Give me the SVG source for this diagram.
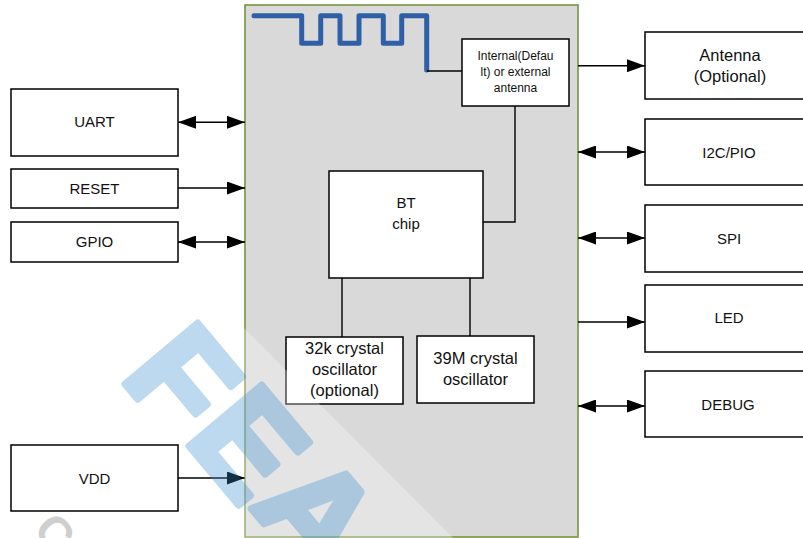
<svg xmlns="http://www.w3.org/2000/svg" width="803" height="538" viewBox="0 0 803 538">
<style>
.box{fill:#fff;stroke:#000;stroke-width:1.5}
.t{font-family:"Liberation Sans",Arial,sans-serif;fill:#111;text-anchor:middle}
.s15{font-size:15px}
.s16{font-size:16.5px}
.s12{font-size:12px}
.ln{stroke:#000;stroke-width:1.4;fill:none}
.wm{font-family:"Liberation Sans",Arial,sans-serif;font-weight:bold;font-size:138px;fill:#3a8fcf;stroke:#3a8fcf;stroke-width:7;stroke-linejoin:round}
</style>
<defs>
<marker id="ah" markerUnits="userSpaceOnUse" markerWidth="19" markerHeight="13" refX="18" refY="6.5" orient="auto-start-reverse">
<path d="M0,0 L18,6.5 L0,13 z" fill="#000"/>
</marker>
</defs>
<rect width="803" height="538" fill="#fff"/>

<g id="module">
<rect x="245" y="5" width="333" height="532" fill="#d9d9d9" stroke="#77933c" stroke-width="1.6"/>
</g>

<g id="pcb-antenna">
<path d="M254,15.7 H301.7 V43.3 H320.7 V15.7 H340 V43.3 H359 V15.7 H383.3 V43.3 H401.7 V15.7 H426.7 V70" fill="none" stroke="#2f5fa7" stroke-width="5" stroke-linejoin="round" stroke-linecap="round"/>
</g>

<g id="ant-sel">
<rect class="box" x="462" y="39" width="107" height="67"/>
<text class="t s12" x="515.5" y="60">Internal(Defau</text>
<text class="t s12" x="515.5" y="76">lt) or external</text>
<text class="t s12" x="515.5" y="92">antenna</text>
</g>

<g id="bt-chip">
<rect class="box" x="329" y="171" width="154" height="107"/>
<text class="t s15" x="406" y="208">BT</text>
<text class="t s15" x="406" y="229">chip</text>
</g>

<g id="osc32k">
<rect class="box" x="286" y="337" width="117" height="67"/>
<text class="t s16" x="344.5" y="354">32k crystal</text>
<text class="t s16" x="344.5" y="375">oscillator</text>
<text class="t s16" x="344.5" y="396">(optional)</text>
</g>

<g id="osc39m">
<rect class="box" x="417" y="336" width="117" height="67"/>
<text class="t s16" x="475.5" y="364">39M crystal</text>
<text class="t s16" x="475.5" y="385">oscillator</text>
</g>

<g id="uart">
<rect class="box" x="11" y="89" width="167" height="67"/>
<text class="t s15" x="94.5" y="127">UART</text>
</g>
<g id="reset">
<rect class="box" x="11" y="169" width="167" height="39"/>
<text class="t s15" x="94.5" y="194">RESET</text>
</g>
<g id="gpio">
<rect class="box" x="11" y="222" width="167" height="40"/>
<text class="t s15" x="94.5" y="247">GPIO</text>
</g>
<g id="vdd">
<rect class="box" x="11" y="445" width="167" height="66"/>
<text class="t s15" x="94.5" y="484">VDD</text>
</g>

<g id="antenna">
<rect class="box" x="645" y="32" width="175" height="67"/>
<text class="t s16" x="730" y="61">Antenna</text>
<text class="t s16" x="730" y="82">(Optional)</text>
</g>
<g id="i2c">
<rect class="box" x="645" y="119" width="175" height="66"/>
<text class="t s15" x="729" y="158">I2C/PIO</text>
</g>
<g id="spi">
<rect class="box" x="645" y="205" width="175" height="67"/>
<text class="t s15" x="729" y="244">SPI</text>
</g>
<g id="led">
<rect class="box" x="645" y="285" width="175" height="67"/>
<text class="t s15" x="729" y="323">LED</text>
</g>
<g id="debug">
<rect class="box" x="645" y="371" width="175" height="66"/>
<text class="t s15" x="728" y="410">DEBUG</text>
</g>

<g id="connectors">
<line class="ln" x1="178" y1="122.3" x2="245" y2="122.3" marker-start="url(#ah)" marker-end="url(#ah)"/>
<line class="ln" x1="178" y1="188" x2="245" y2="188" marker-end="url(#ah)"/>
<line class="ln" x1="178" y1="242" x2="245" y2="242" marker-start="url(#ah)" marker-end="url(#ah)"/>
<line class="ln" x1="178" y1="478" x2="245" y2="478" marker-end="url(#ah)"/>
<line class="ln" x1="578" y1="65.7" x2="645" y2="65.7" marker-end="url(#ah)"/>
<line class="ln" x1="578" y1="152" x2="645" y2="152" marker-start="url(#ah)" marker-end="url(#ah)"/>
<line class="ln" x1="578" y1="238" x2="645" y2="238" marker-start="url(#ah)" marker-end="url(#ah)"/>
<line class="ln" x1="578" y1="322" x2="645" y2="322" marker-end="url(#ah)"/>
<line class="ln" x1="578" y1="406" x2="645" y2="406" marker-start="url(#ah)" marker-end="url(#ah)"/>
<polyline class="ln" points="483,222 515,222 515,106"/>
<line class="ln" x1="342" y1="278" x2="342" y2="337"/>
<line class="ln" x1="470" y1="278" x2="470" y2="336"/>
<line class="ln" x1="427" y1="71" x2="462" y2="71"/>
</g>

<polygon points="244,328 453,538 244,538" fill="#fff" fill-opacity="0.3"/>

<g id="watermark">
<g opacity="0.33">
<text class="wm" transform="translate(119,377) rotate(50)">F</text>
<text class="wm" transform="translate(183,439) rotate(50)">E</text>
<text class="wm" transform="translate(249,506) rotate(50)">A</text>
</g>
<text transform="translate(32,530) rotate(50)" font-family="Liberation Sans,Arial,sans-serif" font-weight="bold" font-size="46" fill="#cfcfcf">C</text>
</g>
</svg>
